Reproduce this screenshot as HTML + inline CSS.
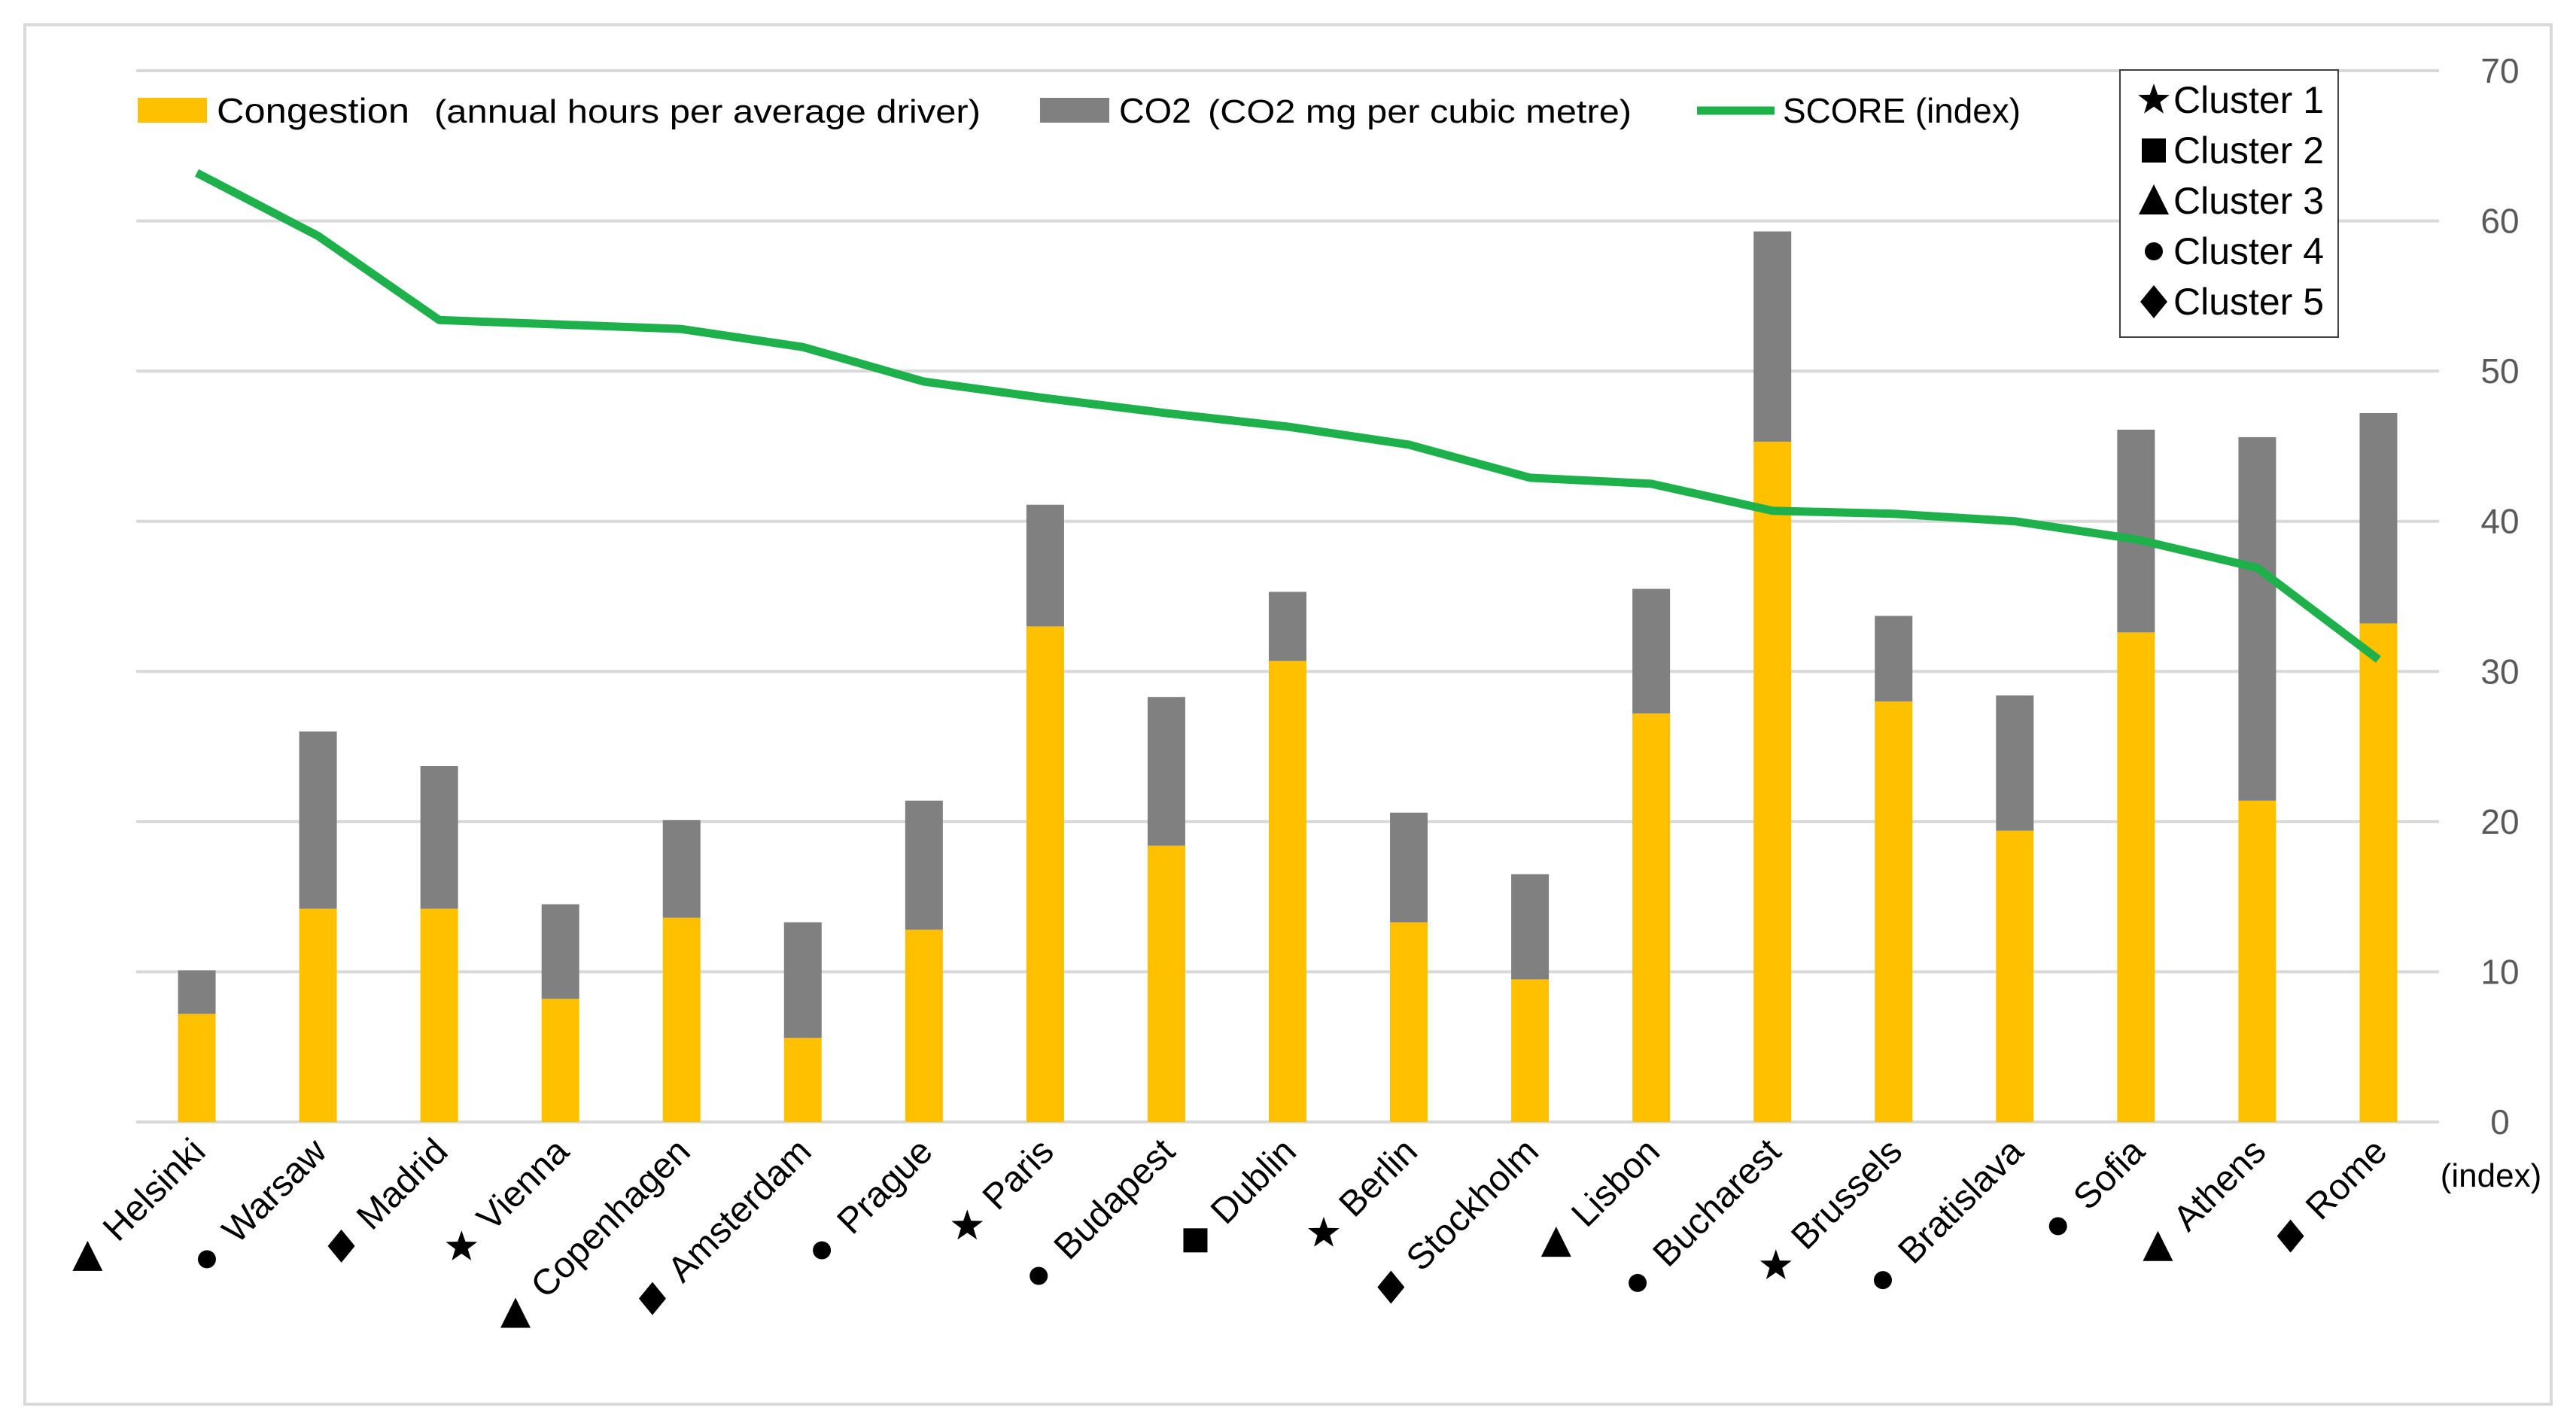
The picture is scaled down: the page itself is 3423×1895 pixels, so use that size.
<!DOCTYPE html>
<html><head><meta charset="utf-8"><style>
html,body{margin:0;padding:0;background:#fff;}
svg{display:block;font-family:"Liberation Sans",sans-serif;}
</style></head><body>
<svg id="chart" width="3423" height="1895" viewBox="0 0 3423 1895" xmlns="http://www.w3.org/2000/svg">
<rect x="33" y="33" width="3357" height="1833" fill="#fff" stroke="#d9d9d9" stroke-width="4"/>
<g id="grid"></g>
<g id="bars"></g>
<g id="line"></g>
<g id="xlabels"></g>
<g id="ylabels"></g>
<g>
  <rect x="183" y="130" width="92" height="33" fill="#FFC000"/>
  <text x="288" y="163" font-size="46" textLength="256" lengthAdjust="spacingAndGlyphs">Congestion</text>
  <text x="577" y="163" font-size="44" textLength="726" lengthAdjust="spacingAndGlyphs">(annual hours per average driver)</text>
  <rect x="1382" y="130" width="92" height="33" fill="#808080"/>
  <text x="1487" y="163" font-size="46" textLength="96" lengthAdjust="spacingAndGlyphs">CO2</text>
  <text x="1605" y="163" font-size="44" textLength="563" lengthAdjust="spacingAndGlyphs">(CO2 mg per cubic metre)</text>
  <line x1="2255" y1="147" x2="2358" y2="147" stroke="#1DB04B" stroke-width="11"/>
  <text x="2369" y="163" font-size="46" textLength="316" lengthAdjust="spacingAndGlyphs">SCORE (index)</text>
</g>
<g id="clegend">
  <rect x="2817" y="93" width="290" height="355" fill="#fff" stroke="#404040" stroke-width="2"/>
</g>
<text x="3310" y="1577" font-size="44" text-anchor="middle">(index)</text>
</svg>
<script>
const cities = ["Helsinki","Warsaw","Madrid","Vienna","Copenhagen","Amsterdam","Prague","Paris","Budapest","Dublin","Berlin","Stockholm","Lisbon","Bucharest","Brussels","Bratislava","Sofia","Athens","Rome"];
const clusters = [3,4,5,1,3,5,4,1,4,2,1,5,3,4,1,4,4,3,5];
const congestion = [7.2,14.2,14.2,8.2,13.6,5.6,12.8,33.0,18.4,30.7,13.3,9.5,27.2,45.3,28.0,19.4,32.6,21.4,33.2];
const co2 = [2.9,11.8,9.5,6.3,6.5,7.7,8.6,8.1,9.9,4.6,7.3,7.0,8.3,14.0,5.7,9.0,13.5,24.2,14.0];
const score = [63.2,59.0,53.4,53.1,52.8,51.6,49.3,48.2,47.2,46.3,45.1,42.9,42.5,40.7,40.5,40.0,38.8,36.9,30.8];
const yTicks = [0,10,20,30,40,50,60,70];

const NS = "http://www.w3.org/2000/svg";
const x0 = 181, x1 = 3241, yBase = 1491, yTop = 94, yMax = 70;
const band = (x1 - x0) / cities.length;
const xc = i => x0 + band * (i + 0.5);
const y = v => yBase - (v / yMax) * (yBase - yTop);
function mk(tag, attrs, parent) {
  const e = document.createElementNS(NS, tag);
  for (const k in attrs) e.setAttribute(k, attrs[k]);
  parent.appendChild(e);
  return e;
}
function sym(c, cx, cy, s, parent) {
  let e;
  if (c === 1) {
    const p = [];
    for (let k = 0; k < 10; k++) {
      const r = k % 2 ? s * 0.22 : s * 0.55;
      const a = -Math.PI / 2 + k * Math.PI / 5;
      p.push((cx + r * Math.cos(a)).toFixed(1) + ',' + (cy + r * Math.sin(a)).toFixed(1));
    }
    e = mk('polygon', {points: p.join(' '), fill: '#000'}, parent);
  } else if (c === 2) {
    e = mk('rect', {x: cx - s * 0.4, y: cy - s * 0.4, width: s * 0.8, height: s * 0.8, fill: '#000'}, parent);
  } else if (c === 3) {
    e = mk('polygon', {points: `${cx},${cy - s * 0.55} ${cx + s * 0.5},${cy + s * 0.45} ${cx - s * 0.5},${cy + s * 0.45}`, fill: '#000'}, parent);
  } else if (c === 4) {
    e = mk('circle', {cx: cx, cy: cy, r: s * 0.3, fill: '#000'}, parent);
  } else {
    e = mk('polygon', {points: `${cx},${cy - s * 0.55} ${cx + s * 0.45},${cy} ${cx},${cy + s * 0.55} ${cx - s * 0.45},${cy}`, fill: '#000'}, parent);
  }
  return e;
}
const grid = document.getElementById('grid');
const ylab = document.getElementById('ylabels');
yTicks.forEach(t => {
  const g = mk('line', {x1: x0, x2: x1, y1: y(t), y2: y(t), stroke: '#d9d9d9', 'stroke-width': 4}, grid);
  
  
  const tx = mk('text', {x: 3322, y: y(t) + 16, 'font-size': 46, 'text-anchor': 'middle', fill: '#595959'}, ylab);
  tx.textContent = t;
  
  
});
const bars = document.getElementById('bars');
const xl = document.getElementById('xlabels');
const bw = 50;
const ca = Math.cos(-Math.PI / 4), sa = Math.sin(-Math.PI / 4);
cities.forEach((c, i) => {
  const b1 = mk('rect', {x: xc(i) - bw/2, y: y(congestion[i]), width: bw, height: y(0) - y(congestion[i]), fill: '#FFC000'}, bars);
  
  
  const tot = congestion[i] + co2[i];
  const b2 = mk('rect', {x: xc(i) - bw/2, y: y(tot), width: bw, height: y(congestion[i]) - y(tot), fill: '#808080'}, bars);
  
  
  const lx = xc(i) + 14, ly = yBase + 42;
  const t = mk('text', {x: lx, y: ly, 'font-size': 48, 'text-anchor': 'end', transform: 'rotate(-45 ' + lx + ' ' + ly + ')'}, xl);
  t.textContent = c;
  
  
  const w = t.getComputedTextLength();
  const dx = -w - 42, dy = -15;
  const sx = lx + dx * ca - dy * sa, sy = ly + dx * sa + dy * ca;
  const s = sym(clusters[i], sx, sy, 40, xl);
  
  
});
const pts = score.map((s, i) => xc(i) + ',' + y(s)).join(' ');
const pl = mk('polyline', {points: pts, fill: 'none', stroke: '#1DB04B', 'stroke-width': 11, 'stroke-linejoin': 'round'}, document.getElementById('line'));


const cl = document.getElementById('clegend');
[1,2,3,4,5].forEach((c, k) => {
  const cy = 133 + k * 67;
  const s = sym(c, 2862, cy, 40, cl);
  
  
  const t = mk('text', {x: 2888, y: cy + 17, 'font-size': 50, textLength: 200, lengthAdjust: 'spacingAndGlyphs'}, cl);
  t.textContent = 'Cluster ' + c;
  
  
});
</script>
</body></html>
